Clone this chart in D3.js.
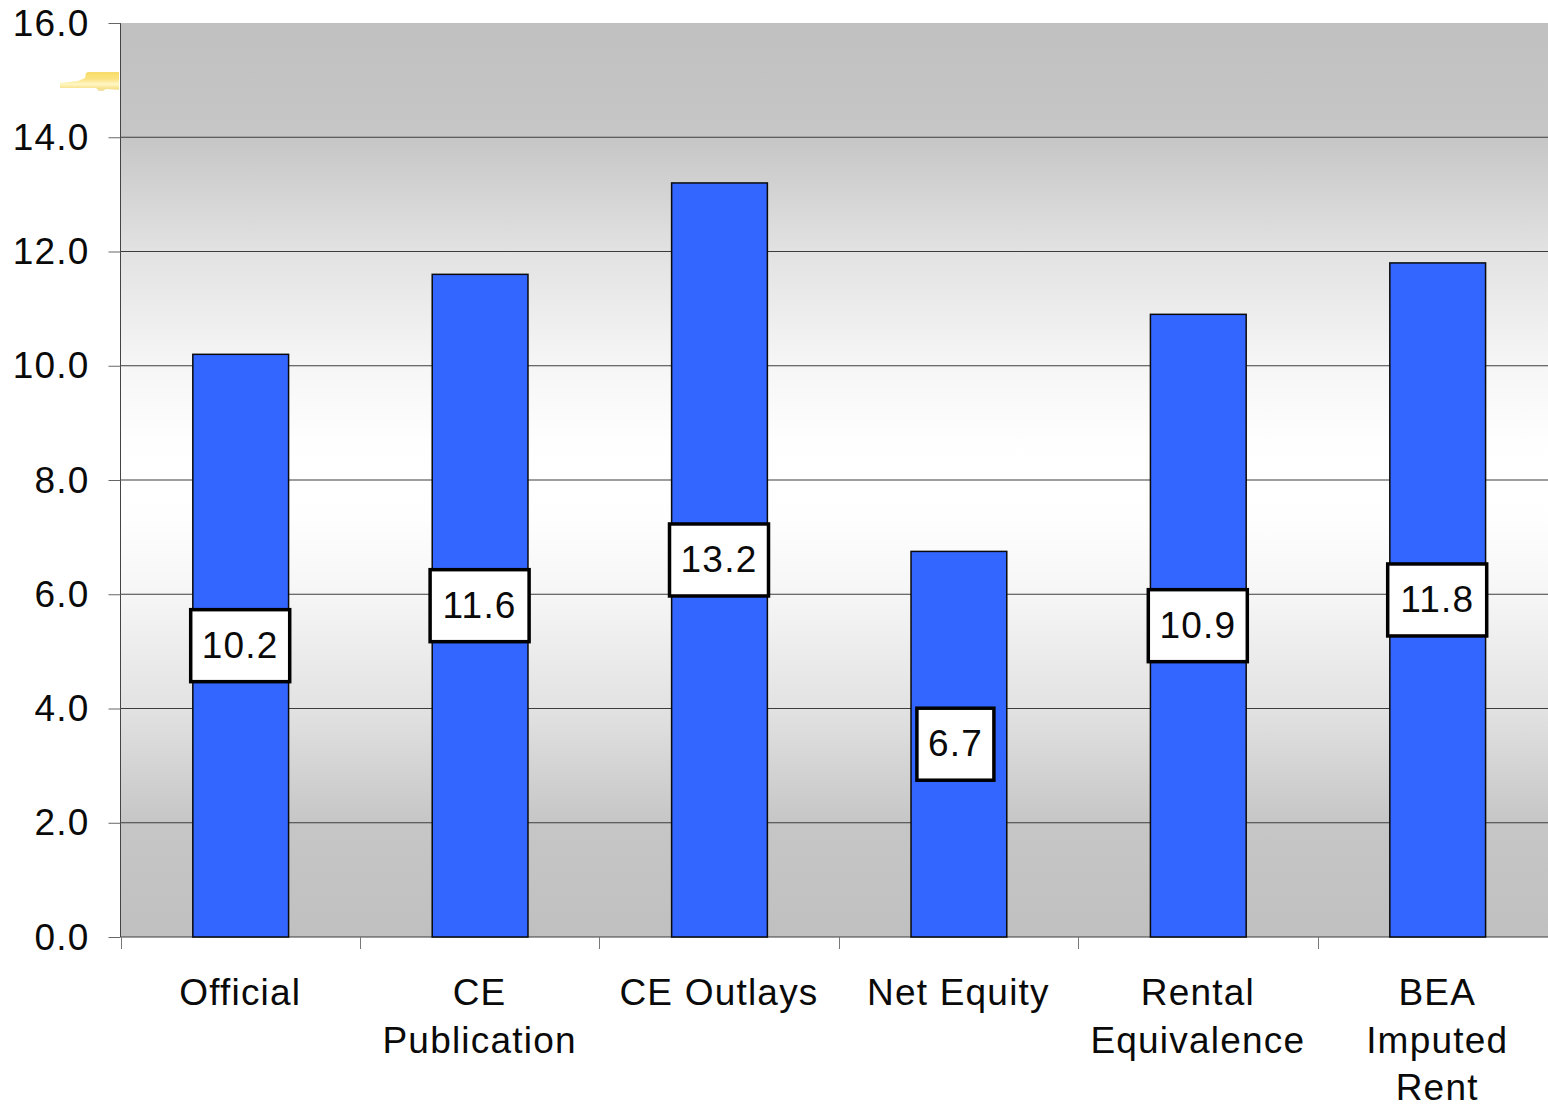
<!DOCTYPE html>
<html><head><meta charset="utf-8">
<style>html,body{margin:0;padding:0;background:#fff;overflow:hidden}svg{display:block}text{font-family:"Liberation Sans",Arial,sans-serif;fill:#0a0a0a;letter-spacing:1.2px}</style>
<script src="https://cdn.jsdelivr.net/npm/d3@7"></script>
</head><body><svg id="c" width="1548" height="1106"></svg>
<script>
const categories=["Official","CE Publication","CE Outlays","Net Equity","Rental Equivalence","BEA Imputed Rent"];
const categoryLines=[["Official"],["CE","Publication"],["CE Outlays"],["Net Equity"],["Rental","Equivalence"],["BEA","Imputed","Rent"]];
const values=[10.2,11.6,13.2,6.75,10.9,11.8];
const valueLabels=["10.2","11.6","13.2","6.7","10.9","11.8"];
const yTicks=[0,2,4,6,8,10,12,14,16];

const svg=d3.select("#c");
const L=120.5,T=23,B=937,BW=239.4;
const x=d3.scaleBand().domain(categories).range([L,L+BW*categories.length]).padding(0);
const y=d3.scaleLinear().domain([0,16]).range([B,T]);

const defs=svg.append("defs");
const g=defs.append("linearGradient").attr("id","bg").attr("x1",0).attr("y1",0).attr("x2",0).attr("y2",1);
[[0,"#c0c0c0"],[.125,"#c6c6c6"],[.25,"#e2e2e2"],[.375,"#f6f6f6"],[.46,"#fefefe"],[.5,"#ffffff"],[.54,"#fefefe"],[.625,"#f6f6f6"],[.75,"#e2e2e2"],[.875,"#c6c6c6"],[1,"#c0c0c0"]]
 .forEach(d=>g.append("stop").attr("offset",d[0]).attr("stop-color",d[1]));
const g2=defs.append("linearGradient").attr("id","tag").attr("x1",0).attr("y1",0).attr("x2",0).attr("y2",1);
[[0,"#f7dc6a"],[.35,"#fbe27e"],[.65,"#fff6c4"],[.85,"#f8e28c"],[1,"#efe0a8"]].forEach(d=>g2.append("stop").attr("offset",d[0]).attr("stop-color",d[1]));

svg.append("rect").attr("x",L).attr("y",T).attr("width",1548-L).attr("height",B-T).attr("fill","url(#bg)");
svg.append("path").attr("d","M60,83L78,81L85,78L86,73L88,72L119,72L119,90L106,89L103,91L99,91L96,88L84,88L60,88Z").attr("fill","url(#tag)");

svg.append("g").selectAll("line").data(yTicks).join("line")
 .attr("x1",L).attr("x2",1548).attr("y1",d=>y(d)).attr("y2",d=>y(d)).attr("stroke","#3c3c3c").attr("stroke-width",1.1)
 .attr("opacity",d=>d===16?0:1);

const ya=svg.append("g").attr("transform",`translate(${L},0)`).call(d3.axisLeft(y).tickValues(yTicks).tickSize(12).tickPadding(19).tickFormat(d3.format(".1f")));
ya.select(".domain").attr("stroke","#444").attr("d",`M0,${T}V${B}`);
ya.selectAll(".tick line").attr("stroke","#666");
ya.selectAll("text").attr("font-size",37).attr("dy",".33em").attr("x",-31).style("font-family",'"Liberation Sans"').attr("fill","#0a0a0a");

const edges=d3.range(categories.length).map(i=>x(categories[i]));
svg.append("g").selectAll("line").data(edges).join("line")
 .attr("x1",d=>Math.round(d)+.5).attr("x2",d=>Math.round(d)+.5).attr("y1",B).attr("y2",B+12).attr("stroke","#777");

const barW=x.bandwidth()*0.4;
const cx=c=>x(c)+x.bandwidth()/2;
svg.append("g").selectAll("rect").data(categories).join("rect")
 .attr("x",c=>cx(c)-barW/2+.5).attr("width",barW)
 .attr("y",(c,i)=>y(values[i])).attr("height",(c,i)=>B-y(values[i]))
 .attr("fill","#3366ff").attr("stroke","#0a0a0a").attr("stroke-width",1.5);

const lab=svg.append("g").selectAll("g").data(categories).join("g")
 .attr("transform",(c,i)=>`translate(${cx(c)-(i===3?3:0)},${y(values[i]/2)})`);
lab.append("rect").attr("x",(c,i)=>i===3?-38.5:-49.5).attr("width",(c,i)=>i===3?77:99).attr("y",-36).attr("height",72)
 .attr("fill","#fff").attr("stroke","#000").attr("stroke-width",3.5);
lab.append("text").attr("text-anchor","middle").attr("y",12).attr("font-size",37).text((c,i)=>valueLabels[i]);

const cat=svg.append("g").selectAll("text").data(categories).join("text")
 .attr("text-anchor","middle").attr("font-size",37);
cat.each(function(c,i){
 d3.select(this).selectAll("tspan").data(categoryLines[i]).join("tspan")
  .attr("x",cx(c)).attr("y",(d,j)=>1005+j*47.5).text(d=>d);
});
</script></body></html>
